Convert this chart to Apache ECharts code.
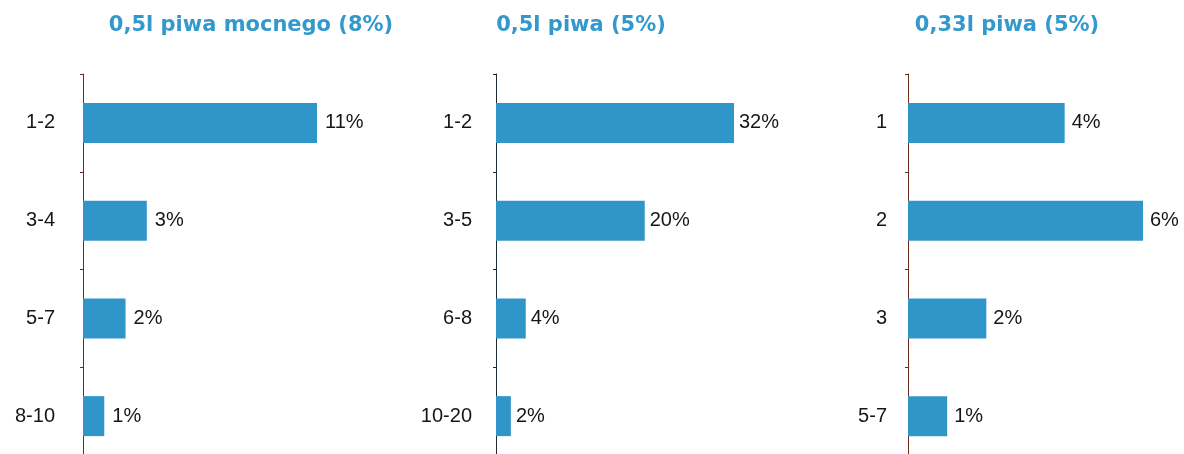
<!DOCTYPE html>
<html>
<head>
<meta charset="utf-8">
<script src="https://cdn.jsdelivr.net/npm/echarts@6/dist/echarts.min.js"></script>
<style>
html,body{margin:0;padding:0;background:#fff;overflow:hidden;}
#chart{width:1184px;height:470px;}
</style>
</head>
<body>
<div id="chart"></div>
<script>
// Panel titles
const titles = ['0,5l piwa mocnego (8%)', '0,5l piwa (5%)', '0,33l piwa (5%)'];
// Categories per panel
const cats1 = ['1-2', '3-4', '5-7', '8-10'];
const cats2 = ['1-2', '3-5', '6-8', '10-20'];
const cats3 = ['1', '2', '3', '5-7'];
// Values (%) per panel
const vals1 = [11, 3, 2, 1];
const vals2 = [32, 20, 4, 2];
const vals3 = [4, 6, 2, 1];

const panels = [
  {cats: cats1, vals: vals1, left: 83, width: 234, max: 11, axisColor: '#6e2a1e', margin: 28, dist: 8, titleX: 251},
  {cats: cats2, vals: vals2, left: 496, width: 238, max: 32, axisColor: '#1c2b33', margin: 24, dist: 5, titleX: 581},
  {cats: cats3, vals: vals3, left: 908, width: 235, max: 6, axisColor: '#6e2a1e', margin: 21, dist: 7, titleX: 1007}
];

const barColor = '#3096c9';
const textColor = '#161616';

const option = {
  backgroundColor: '#ffffff',
  animation: false,
  title: panels.map((p, i) => ({
    text: titles[i],
    left: p.titleX,
    top: 15,
    padding: 0,
    textAlign: 'center',
    textStyle: {color: '#3399cc', fontFamily: 'DejaVu Sans', fontWeight: 'bold', fontSize: 21}
  })),
  grid: panels.map(p => ({left: p.left, top: 74, width: p.width, height: 391, containLabel: false})),
  xAxis: panels.map((p, i) => ({
    type: 'value', gridIndex: i, min: 0, max: p.max, show: false, splitLine: {show: false}
  })),
  yAxis: panels.map((p, i) => ({
    type: 'category', gridIndex: i, inverse: true, data: p.cats,
    axisLine: {show: true, lineStyle: {color: p.axisColor, width: 1}},
    axisTick: {show: true, length: 3, lineStyle: {color: p.axisColor}},
    axisLabel: {color: textColor, fontSize: 20, fontFamily: 'Liberation Sans', margin: p.margin},
    splitLine: {show: false}
  })),
  series: panels.map((p, i) => ({
    type: 'bar', xAxisIndex: i, yAxisIndex: i, data: p.vals, barWidth: 40,
    itemStyle: {color: barColor},
    label: {show: true, position: 'right', distance: p.dist, formatter: '{c}%', color: textColor, fontSize: 20, fontFamily: 'Liberation Sans'}
  }))
};

const chart = echarts.init(document.getElementById('chart'), null, {renderer: 'canvas'});
chart.setOption(option);
</script>
</body>
</html>
